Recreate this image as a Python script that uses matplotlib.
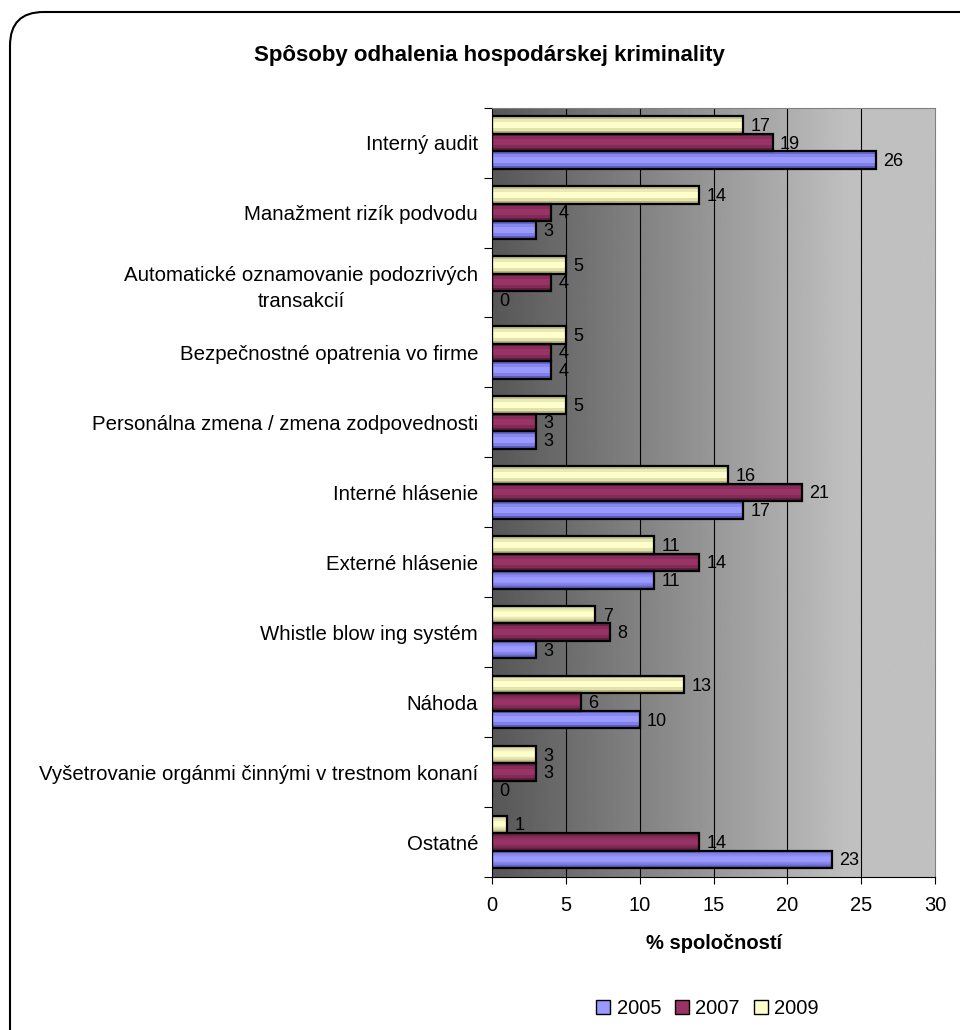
import numpy as np
import matplotlib
matplotlib.use("Agg")
import matplotlib.pyplot as plt
from matplotlib.colors import LinearSegmentedColormap
from matplotlib.patches import FancyBboxPatch, Patch

plt.rcParams['font.family'] = ['Liberation Sans', 'DejaVu Sans']

# data (top to bottom as in the chart)
categories = [
    "Interný audit",
    "Manažment rizík podvodu",
    "Automatické oznamovanie podozrivých\ntransakcií",
    "Bezpečnostné opatrenia vo firme",
    "Personálna zmena / zmena zodpovednosti",
    "Interné hlásenie",
    "Externé hlásenie",
    "Whistle blow ing systém",
    "Náhoda",
    "Vyšetrovanie orgánmi činnými v trestnom konaní",
    "Ostatné",
]
years = ["2005", "2007", "2009"]
v2005 = [26, 3, 0, 4, 3, 17, 11, 3, 10, 0, 23]
v2007 = [19, 4, 4, 4, 3, 21, 14, 8, 6, 3, 14]
v2009 = [17, 14, 5, 5, 5, 16, 11, 7, 13, 3, 1]
series = [v2005, v2007, v2009]
colors = ["#9999FF", "#993366", "#FFFFCC"]
dark = ["#5c5cc0", "#5e1f40", "#b8b880"]

fig = plt.figure(figsize=(9.6, 10.3), dpi=100)
ax = fig.add_axes([0.5125, 0.1485, 0.4615, 0.747])

n = len(categories)
ax.set_xlim(0, 30)
ax.set_ylim(-0.5, n - 0.5)

# gradient background of plot area
xs = np.linspace(0, 30, 300)
shade = np.clip(0.34 + (0.75 - 0.34) * xs / 24.0, 0, 0.75)
bg = np.tile(shade, (2, 1))
ax.imshow(bg, extent=[0, 30, -0.5, n - 0.5], aspect='auto', cmap='gray',
          vmin=0, vmax=1, zorder=0, origin='lower')

for xv in range(5, 30, 5):
    ax.axvline(xv, color='black', lw=0.8, zorder=1)

h = 0.25
ypos = np.arange(n)[::-1]
offsets = [-h, 0, h]
grad = np.array([0.0, 0.6, 1.0, 1.0, 0.7, 0.2]).reshape(-1, 1)
for vals, c, d, off in zip(series, colors, dark, offsets):
    cmap = LinearSegmentedColormap.from_list("g", [d, c])
    bars = ax.barh(ypos + off, vals, height=h, color=c, edgecolor='black',
                   linewidth=1.6, zorder=3)
    for rect, v in zip(bars, vals):
        x0, y0 = rect.get_x(), rect.get_y()
        w, hh = rect.get_width(), rect.get_height()
        if w > 0:
            im = ax.imshow(grad, extent=[x0, x0 + w, y0, y0 + hh], aspect='auto',
                           cmap=cmap, vmin=0, vmax=1, zorder=2.5, origin='lower')
            im.set_clip_path(rect)
            rect.set_facecolor('none')
        ax.text(v + 0.5, y0 + hh / 2 - 0.02, str(v), va='center', ha='left',
                fontsize=13, zorder=4)

ax.set_yticks(np.arange(n + 1) - 0.5)
ax.set_yticklabels([])
ax.set_yticks(ypos, categories, minor=True)
ax.tick_params(axis='y', which='minor', length=0, pad=10, labelsize=14.7)
ax.tick_params(axis='y', which='major', length=6, direction='out')
for lab in ax.get_yticklabels(minor=True):
    lab.set_multialignment('center')
    lab.set_linespacing(1.5)
ax.set_xticks(range(0, 31, 5))
ax.tick_params(axis='x', length=5, direction='out', labelsize=14.5, pad=9)
ax.set_xlabel("% spoločností", fontsize=14.5, fontweight='bold', labelpad=13)

ax.spines['top'].set_color('#808080')
ax.spines['right'].set_color('#808080')
ax.spines['left'].set_color('black')
ax.spines['bottom'].set_color('black')

fig.text(0.51, 0.946, "Spôsoby odhalenia hospodárskej kriminality",
         ha='center', va='center', fontsize=16, fontweight='bold')

handles = [Patch(facecolor=c, edgecolor='black', label=y) for c, y in zip(colors, years)]
fig.legend(handles=handles, loc='center', bbox_to_anchor=(0.737, 0.021), ncol=3,
           frameon=False, fontsize=14.5, handlelength=0.7, handleheight=0.7,
           handletextpad=0.3, columnspacing=0.7)

border = FancyBboxPatch((10 / 960, -0.05), 1.2, 1.05 - 12 / 1030,
                        boxstyle="round,pad=0,rounding_size=0.035",
                        transform=fig.transFigure, facecolor='none',
                        edgecolor='black', linewidth=1.5, mutation_aspect=960 / 1030)
fig.patches.append(border)

fig.savefig("out.png", dpi=100)
